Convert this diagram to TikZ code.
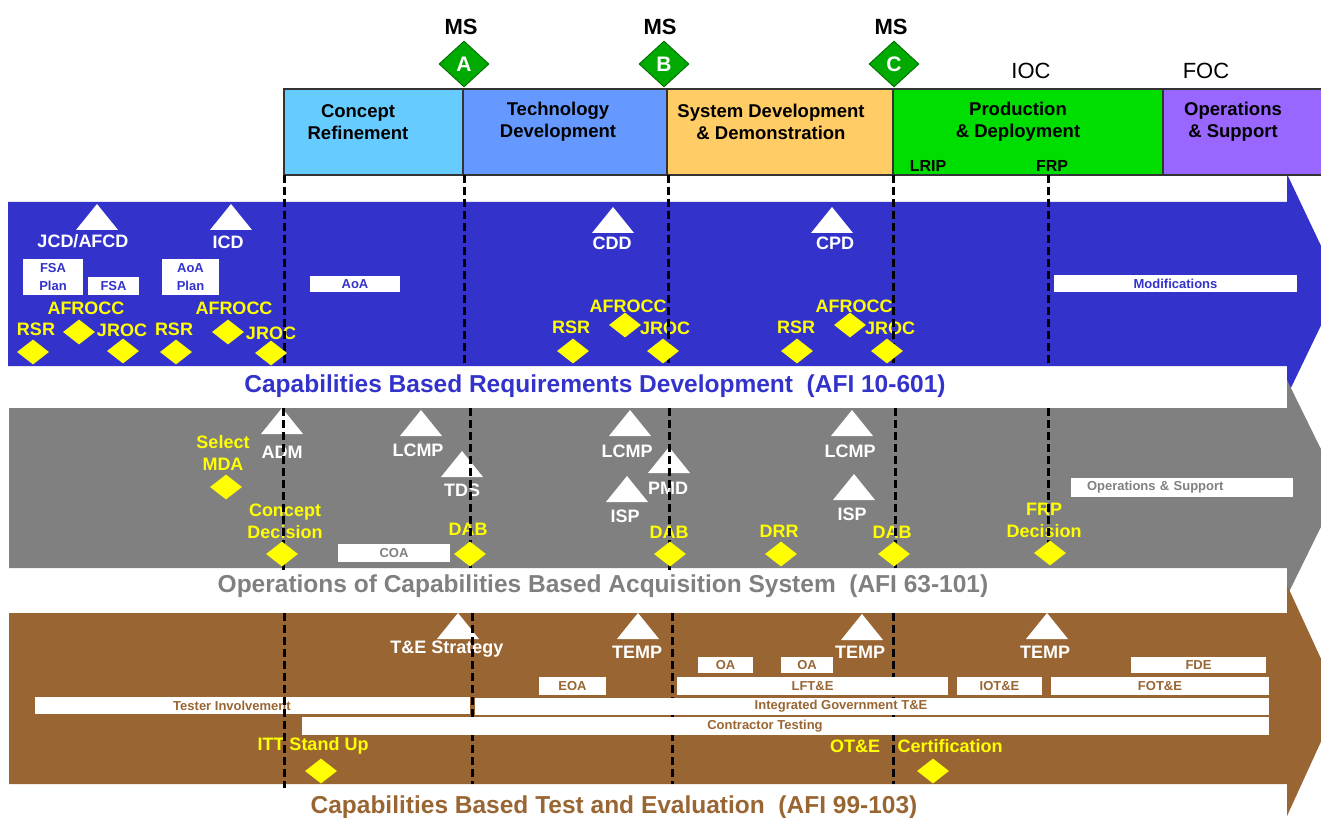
\documentclass[tikz,border=0pt]{standalone}
\usepackage{fontspec}
\setmainfont{Liberation Sans}
\usetikzlibrary{shapes.geometric}

\definecolor{crblue}{HTML}{66CCFF}
\definecolor{tdblue}{HTML}{6699FF}
\definecolor{sddorange}{HTML}{FFCC66}
\definecolor{pdgreen}{HTML}{00DD00}
\definecolor{ospurple}{HTML}{9966FF}
\definecolor{msgreen}{HTML}{00AA00}
\definecolor{reqblue}{HTML}{3333CC}
\definecolor{acqgray}{HTML}{808080}
\definecolor{tebrown}{HTML}{996633}
\definecolor{yel}{HTML}{FFFF00}

\begin{document}
\begin{tikzpicture}[x=1pt,y=-1pt,
    phase/.style={draw=black!80, line width=1.2pt},
    phasetxt/.style={font=\fontsize{18.5}{22}\selectfont\bfseries, align=center, inner sep=0pt},
    lbl/.style={font=\fontsize{18}{22}\selectfont\bfseries, text=white, inner sep=0pt, align=center},
    ylbl/.style={lbl, text=yel},
    ttl/.style={font=\fontsize{24.5}{26}\selectfont\bfseries, inner sep=0pt, anchor=base},
    ydia/.style={diamond, fill=yel, minimum width=32pt, minimum height=25pt, inner sep=0pt},
    msdia/.style={diamond, fill=msgreen, draw=msgreen!60!black, line width=.8pt, minimum width=50pt, minimum height=46pt, inner sep=0pt, text=white, font=\fontsize{21}{21}\selectfont\bfseries},
    wbox/.style={fill=white, inner sep=0pt, font=\fontsize{13}{18}\selectfont\bfseries, align=center},
    milestone/.style={dash pattern=on 8pt off 4pt, line width=3pt},
    doc/.pic={\fill[white] (0,0) -- (21,26) -- (-21,26) -- cycle;}]
  \useasboundingbox (0,0) rectangle (1321,818);
  \clip (0,0) rectangle (1321,818);

  % phases and milestones
  \draw[phase, fill=crblue] (284,89) rectangle (463,175);
  \draw[phase, fill=tdblue] (463,89) rectangle (667,175);
  \draw[phase, fill=sddorange] (667,89) rectangle (893,175);
  \draw[phase, fill=pdgreen] (893,89) rectangle (1163,175);
  \draw[phase, fill=ospurple] (1163,89) rectangle (1326,175);
  \node[phasetxt] (cr) at (358,122) {Concept\\Refinement};
  \node[phasetxt] (td) at (558,122) {Technology\\Development};
  \node[phasetxt] (sdd) at (771,122) {System Development\\\& Demonstration};
  \node[phasetxt] (pd) at (1018,122) {Production\\\& Deployment};
  \node[phasetxt] (os) at (1233,122) {Operations\\\& Support};
  \node[phasetxt, font=\fontsize{16}{16}\selectfont\bfseries] (lrip) at (928,166) {LRIP};
  \node[phasetxt, font=\fontsize{16}{16}\selectfont\bfseries] (frp) at (1052,166) {FRP};
  \node[phasetxt, font=\fontsize{22}{22}\selectfont\bfseries] (msa) at (461,27) {MS};
  \node[phasetxt, font=\fontsize{22}{22}\selectfont\bfseries] (msb) at (660,27) {MS};
  \node[phasetxt, font=\fontsize{22}{22}\selectfont\bfseries] (msc) at (891,27) {MS};
  \node[msdia] (ma) at (464,64) {A};
  \node[msdia] (mb) at (664,64) {B};
  \node[msdia] (mc) at (894,64) {C};
  \node[phasetxt, font=\fontsize{22}{22}\selectfont] (ioc) at (1031,71) {IOC};
  \node[phasetxt, font=\fontsize{22}{22}\selectfont] (foc) at (1206,71) {FOC};

  % bands
  \fill[reqblue] (8,202) -- (1287,202) -- (1287,174) -- (1340,286) -- (1287,396) -- (1287,366) -- (8,366) -- cycle;
  \fill[acqgray] (9,408) -- (1287,408) -- (1287,380) -- (1340,488) -- (1287,596) -- (1287,568) -- (9,568) -- cycle;
  \fill[tebrown] (9,613) -- (1287,613) -- (1287,585) -- (1340,700) -- (1287,816) -- (1287,784) -- (9,784) -- cycle;
  \node[ttl, text=reqblue] (reqt) at (595,392) {Capabilities Based Requirements Development\ \ (AFI 10-601)};
  \node[ttl, text=acqgray] (acqt) at (603,592) {Operations of Capabilities Based Acquisition System\ \ (AFI 63-101)};
  \node[ttl, text=tebrown] (tet) at (614,813) {Capabilities Based Test and Evaluation\ \ (AFI 99-103)};

  % requirements
  \pic at (97,204) {doc};
  \node[lbl] (jcd) at (83,241) {JCD/AFCD};
  \pic at (231,204) {doc};
  \node[lbl] (icd) at (228,242) {ICD};
  \pic at (613,207) {doc};
  \node[lbl] (cdd) at (612,243) {CDD};
  \pic at (832,207) {doc};
  \node[lbl] (cpd) at (835,243) {CPD};
  \node[wbox, text=reqblue, minimum width=60pt, minimum height=36pt] (fsaplan) at (53,277) {FSA\\Plan};
  \node[wbox, text=reqblue, minimum width=51pt, minimum height=18pt] (fsa) at (113.5,286) {FSA};
  \node[wbox, text=reqblue, minimum width=57pt, minimum height=36pt] (aoaplan) at (190.5,277) {AoA\\Plan};
  \node[wbox, text=reqblue, minimum width=90pt, minimum height=16pt] (aoa) at (355,284) {AoA};
  \node[wbox, text=reqblue, minimum width=243pt, minimum height=17pt] (mods) at (1175.5,283.5) {Modifications};
  \node[ylbl] (rsr1) at (36,329) {RSR};
  \node[ylbl] (afrocc1) at (86,308) {AFROCC};
  \node[ylbl] (jroc1) at (122,330) {JROC};
  \node[ylbl] (rsr2) at (174,329) {RSR};
  \node[ylbl] (afrocc2) at (234,308) {AFROCC};
  \node[ylbl] (jroc2) at (271,333) {JROC};
  \node[ylbl] (rsr3) at (571,327) {RSR};
  \node[ylbl] (afrocc3) at (628,306) {AFROCC};
  \node[ylbl] (jroc3) at (665,328) {JROC};
  \node[ylbl] (rsr4) at (796,327) {RSR};
  \node[ylbl] (afrocc4) at (854,306) {AFROCC};
  \node[ylbl] (jroc4) at (890,328) {JROC};

  % acquisition
  \pic at (282,408) {doc};
  \node[lbl] (adm) at (282,452) {ADM};
  \node[ylbl] (mda) at (223,453) {Select\\MDA};
  \pic at (421,410) {doc};
  \node[lbl] (lcmp1) at (418,450) {LCMP};
  \pic at (462,451) {doc};
  \node[lbl] (tds) at (462,490) {TDS};
  \node[ylbl] (cdec) at (285,521) {Concept\\Decision};
  \node[wbox, text=acqgray, minimum width=112pt, minimum height=18pt] (coa) at (394,553) {COA};
  \node[ylbl] (dab1) at (468,529) {DAB};
  \pic at (630,410) {doc};
  \node[lbl] (lcmp2) at (627,451) {LCMP};
  \pic at (669,447) {doc};
  \node[lbl] (pmd) at (668,488) {PMD};
  \pic at (627,476) {doc};
  \node[lbl] (isp1) at (625,516) {ISP};
  \node[ylbl] (dab2) at (669,532) {DAB};
  \node[ylbl] (drr) at (779,531) {DRR};
  \pic at (852,410) {doc};
  \node[lbl] (lcmp3) at (850,451) {LCMP};
  \pic at (854,474) {doc};
  \node[lbl] (isp2) at (852,514) {ISP};
  \node[ylbl] (dab3) at (892,532) {DAB};
  \node[ylbl] (frpdec) at (1044,520) {FRP\\Decision};
  \node[wbox, text=acqgray, minimum height=19pt, inner xsep=16pt, text width=190pt, align=left] (ops) at (1182,487.5) {Operations \& Support};

  % test and evaluation
  \pic at (458,613) {doc};
  \node[lbl] (tes) at (447,649) {T\&E Strategy};
  \pic at (638,613) {doc};
  \node[lbl] (temp1) at (637,652) {TEMP};
  \pic at (862,614) {doc};
  \node[lbl] (temp2) at (860,652) {TEMP};
  \pic at (1047,613) {doc};
  \node[lbl] (temp3) at (1045,652) {TEMP};
  \node[ylbl] (itt) at (313,746) {ITT Stand Up};
  \node[ylbl] (ote) at (855,746) {OT\&E};
  \node[ylbl] (cert) at (950,746) {Certification};

  % milestone lines
  \draw[milestone] (284,175) -- (284,366);
  \draw[milestone] (464,175) -- (464,366);
  \draw[milestone] (668,175) -- (668,366);
  \draw[milestone] (893,175) -- (893,366);
  \draw[milestone] (1048,175) -- (1048,366);
  \draw[milestone] (283,408) -- (283,570);
  \draw[milestone] (470,408) -- (470,568);
  \draw[milestone] (669,408) -- (669,570);
  \draw[milestone] (895,408) -- (895,568);
  \draw[milestone] (1048,408) -- (1048,545);
  \draw[milestone] (472,613) -- (472,784);
  \draw[milestone] (672,613) -- (672,784);
  \draw[milestone] (893,613) -- (893,784);

  \node[wbox, text=tebrown, minimum width=55pt, minimum height=16pt] (oa1) at (725.5,665) {OA};
  \node[wbox, text=tebrown, minimum width=52pt, minimum height=16pt] (oa2) at (807,665) {OA};
  \node[wbox, text=tebrown, minimum width=135pt, minimum height=16pt] (fde) at (1198.5,665) {FDE};
  \node[wbox, text=tebrown, minimum width=67pt, minimum height=18pt] (eoa) at (572.5,686) {EOA};
  \node[wbox, text=tebrown, minimum width=271pt, minimum height=18pt] (lfte) at (812.5,686) {LFT\&E};
  \node[wbox, text=tebrown, minimum width=85pt, minimum height=18pt] (iote) at (999.5,686) {IOT\&E};
  \node[wbox, text=tebrown, minimum width=218pt, minimum height=18pt] (fote) at (1160,686) {FOT\&E};
  \node[wbox, minimum width=435pt, minimum height=17pt] (tester) at (252.5,705.5) {};
  \node[wbox, text=tebrown, fill=none] (testert) at (232,705.5) {Tester Involvement};
  \node[wbox, minimum width=794pt, minimum height=17pt] (integ) at (872,706) {};
  \node[wbox, text=tebrown, fill=none] (integt) at (841,706) {Integrated Government T\&E};
  \node[wbox, minimum width=967pt, minimum height=18pt] (contr) at (785.5,726) {};
  \node[wbox, text=tebrown, fill=none] (contrt) at (765,726) {Contractor Testing};
  \draw[milestone] (284,613) -- (284,788);

  % decision points
  \node[ydia] (rsr1d) at (33,352) {};
  \node[ydia] (afrocc1d) at (79,332) {};
  \node[ydia] (jroc1d) at (123,351) {};
  \node[ydia] (rsr2d) at (176,352) {};
  \node[ydia] (afrocc2d) at (228,332) {};
  \node[ydia] (jroc2d) at (271,353) {};
  \node[ydia] (rsr3d) at (573,351) {};
  \node[ydia] (afrocc3d) at (625,325) {};
  \node[ydia] (jroc3d) at (663,351) {};
  \node[ydia] (rsr4d) at (797,351) {};
  \node[ydia] (afrocc4d) at (850,325) {};
  \node[ydia] (jroc4d) at (887,351) {};
  \node[ydia] (mdad) at (226,487) {};
  \node[ydia] (cdecd) at (282,554) {};
  \node[ydia] (dab1d) at (470,554) {};
  \node[ydia] (dab2d) at (670,554) {};
  \node[ydia] (drrd) at (781,554) {};
  \node[ydia] (dab3d) at (894,554) {};
  \node[ydia] (frpdecd) at (1050,553) {};
  \node[ydia] (ittd) at (321,771) {};
  \node[ydia] (certd) at (933,771) {};
\end{tikzpicture}
\end{document}
